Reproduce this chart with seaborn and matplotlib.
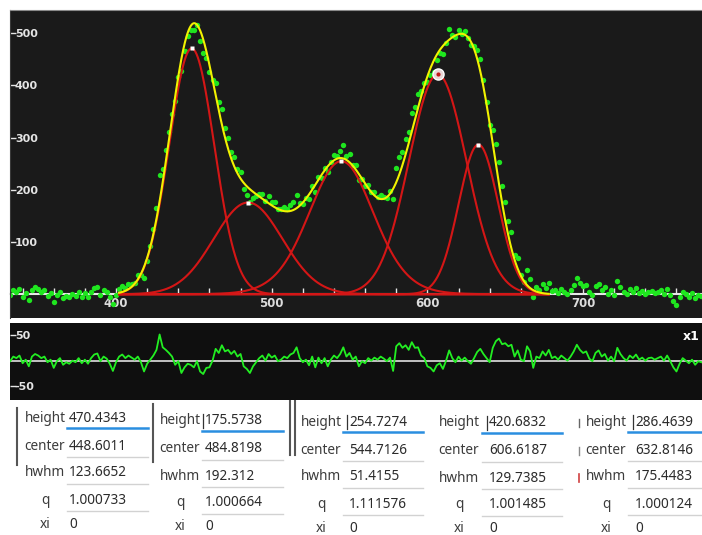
import numpy as np
import pandas as pd
import matplotlib
matplotlib.use("Agg")
import matplotlib.pyplot as plt
from matplotlib.ticker import MultipleLocator, FixedLocator
import seaborn as sns

# ---- fitted component parameters (shown in the parameter panel) ----
param_names = ["height", "center", "hwhm", "q", "xi"]
heights = [470.4343, 175.5738, 254.7274, 420.6832, 286.4639]
centers = [448.6011, 484.8198, 544.7126, 606.6187, 632.8146]
hwhm_vals = [123.6652, 192.312, 51.4155, 129.7385, 175.4483]
q_vals = [1.000733, 1.000664, 1.111576, 1.001485, 1.000124]
xi_vals = [0, 0, 0, 0, 0]
# drawn component widths (sigma, wavelength units)
widths = [14.5, 22.0, 20.5, 18.5, 12.7]

# ---- sampling grid and fit residuals ----
x_first, x_last, x_step = 332, 776, 2
residuals = [
    -1, 8, 5, 10, -5, 2, -11, 8, 13, 10,
    5, 8, -3, 2, -14, -1, 5, -8, -3, -6,
    0, -3, 5, -5, 2, -6, 5, 12, 14, -1,
    8, 4, -6, -20, -3, 8, 12, 5, 10, 6,
    2, 8, -3, -21, -6, 2, 10, 21, 51, 26,
    21, 15, 8, -8, -1, -24, -13, -6, -8, -13,
    -1, -21, -26, -14, -13, 0, 23, 15, 30, 18,
    21, 13, 19, 8, 13, -11, -16, -24, -11, -3,
    5, 10, 0, 13, 6, 10, -1, 2, 8, 5,
    12, 15, 26, 5, -3, 2, -9, 8, -13, 6,
    -5, 5, -11, 2, 10, 5, 13, 26, 8, 15,
    2, 8, -11, -1, -5, 5, 0, 6, 2, 8,
    4, -1, 6, -20, 28, 34, 25, 30, 21, 36,
    25, 26, 10, 5, -11, -14, -21, -9, -5, -16,
    0, 20, 5, -3, 8, 0, 6, -1, -6, 5,
    17, 23, 13, 5, -3, 25, 38, 43, 32, 34,
    28, 31, 8, 20, 2, -1, 28, 18, -14, 8,
    5, 18, 10, 21, 5, 8, 2, 10, 5, 0,
    8, 18, 31, 21, 15, 18, 4, -1, 15, 20,
    8, 13, 0, 8, -1, 25, 13, 5, 0, 10,
    5, 12, 2, 6, 0, 5, 6, 2, 5, 8,
    0, 10, -1, -13, -21, -6, 5, 0, -5, 2,
    -8, -1, -3,
]

# ---- axis tick values ----
main_yticks = [100, 200, 300, 400, 500]
main_xticks = [400, 500, 600, 700]
resid_yticks = [-50, 50]


def q_gauss(x, h, c, s, q):
    return h * (1.0 + (q - 1.0) * (x - c) ** 2 / (2.0 * s ** 2)) ** (-1.0 / (q - 1.0))


wl = np.arange(x_first, x_last + 1, x_step, dtype=float)
res = np.asarray(residuals, dtype=float)


def model(x):
    return sum(q_gauss(x, h, c, s, q) for h, c, s, q in zip(heights, centers, widths, q_vals))


intensity = model(wl) + res
data = pd.DataFrame({"wavelength": wl, "intensity": intensity, "residual": res})

xc = np.linspace(402, 678, 700)
comp_frames = []
for k, (h, c, s, q) in enumerate(zip(heights, centers, widths, q_vals)):
    comp_frames.append(pd.DataFrame({"wavelength": xc, "y": q_gauss(xc, h, c, s, q), "peak": k}))
comps = pd.concat(comp_frames, ignore_index=True)
fit = pd.DataFrame({"wavelength": xc, "y": model(xc)})

# ---- figure ----
W, H = 702, 535
fig = plt.figure(figsize=(W / 100, H / 100), dpi=100, facecolor="white")


def px_axes(x0, y0, x1, y1):
    return fig.add_axes([x0 / W, 1 - y1 / H, (x1 - x0) / W, (y1 - y0) / H])


BG = "#1a1a1a"
GREEN = "#1fe61f"
TICK_COLOR = "#e6e6e6"
tick_font = dict(family="DejaVu Sans", weight="bold", size=8)
xtick_font = dict(family="DejaVu Sans", weight="bold", size=8.5)

# main spectrum panel
ax = px_axes(10, 10, 702, 318)
ax.set_facecolor(BG)
sns.scatterplot(data=data, x="wavelength", y="intensity", color=GREEN, s=15,
                linewidth=0, ax=ax, zorder=2)
sns.lineplot(data=comps, x="wavelength", y="y", units="peak", estimator=None,
             color="#d41616", lw=1.5, ax=ax, zorder=3, sort=False)
sns.lineplot(data=fit, x="wavelength", y="y", color="#f2f200", lw=1.5, ax=ax,
             zorder=4, sort=False)

# peak markers (the selected component gets a ring)
for k, (h, c) in enumerate(zip(heights, centers)):
    if k == 3:
        ax.plot(c, h, "o", ms=8, mfc="#e8d6d6", mec="#ffffff", mew=1.0, zorder=6)
        ax.plot(c, h, "o", ms=3, mfc="#c01818", mec="none", zorder=7)
    else:
        ax.plot(c, h, "s", ms=3, mfc="white", mec="none", zorder=6)

ax.set_xlim(331.9, 776.4)
ax.set_ylim(-45.4, 544)
ax.set_xlabel("")
ax.set_ylabel("")
ax.spines["right"].set_visible(False)
ax.spines["top"].set_color("#8a8a8a")
ax.spines["top"].set_linewidth(0.8)
ax.spines["left"].set_color("#3a3a3a")
ax.spines["bottom"].set_position(("data", 0))
ax.spines["bottom"].set_color("#e8e8e8")
ax.spines["bottom"].set_linewidth(1.5)
ax.spines["bottom"].set_zorder(1)

ax.xaxis.set_major_locator(FixedLocator(main_xticks))
ax.xaxis.set_minor_locator(MultipleLocator(20))
ax.set_xticks(main_xticks)
ax.set_xticklabels([str(v) for v in main_xticks], **xtick_font)
ax.tick_params(axis="x", which="both", direction="in", length=4, width=1,
               color=TICK_COLOR, labelcolor="#dcdcdc", pad=2)
ax.set_yticks(main_yticks)
ax.set_yticklabels([str(v) for v in main_yticks], **tick_font)
ax.tick_params(axis="y", which="both", direction="in", length=4, width=1,
               color=TICK_COLOR, labelcolor="#e4e4e4", pad=-3.5)
for lab in ax.get_yticklabels():
    lab.set_horizontalalignment("left")

# residual panel
axr = px_axes(10, 323, 702, 400)
axr.set_facecolor("#0f0f0f")
axr.axhline(0, color="#e0e0e0", lw=1.2, zorder=1)
sns.lineplot(data=data, x="wavelength", y="residual", color="#22ee22", lw=1.3,
             estimator=None, ax=axr, zorder=2, sort=False)
axr.set_xlim(331.9, 776.4)
axr.set_ylim(-76.5, 73.3)
axr.set_xlabel("")
axr.set_ylabel("")
for side in ["top", "right", "bottom", "left"]:
    axr.spines[side].set_visible(False)
axr.set_xticks([])
axr.set_yticks(resid_yticks)
axr.set_yticklabels([str(v) for v in resid_yticks], **tick_font)
axr.tick_params(axis="y", direction="in", length=4, width=1, color=TICK_COLOR,
                labelcolor="#e4e4e4", pad=-3.5)
for lab in axr.get_yticklabels():
    lab.set_horizontalalignment("left")
fig.text(700 / W, 1 - 337 / H, "x1", color="white", fontsize=9, fontweight="bold",
         ha="right", va="center")

# parameter panel (pixel coordinates)
axt = fig.add_axes([0, 0, 1, 1], zorder=-1)
axt.set_xlim(0, W)
axt.set_ylim(H, 0)
axt.axis("off")
axt.patch.set_alpha(0)

row_y = [418, 446, 473, 500, 524]
label_cx = [45, 180, 321, 459, 606]
value_x = [69, 205, 349, 489, 635]
line_x = [(67, 148), (202, 283), (343, 423), (482, 562), (628, 702)]
col_dy = [0, 3, 4, 5, 4]
table_font = dict(family=["Noto Sans", "DejaVu Sans"], size=9.8)

columns = list(zip(heights, centers, hwhm_vals, q_vals, xi_vals))
for j, vals in enumerate(columns):
    dy = col_dy[j]
    for r, (name, v) in enumerate(zip(param_names, vals)):
        y = row_y[r] + dy
        axt.text(label_cx[j], y, name, ha="center", va="center", color="#3c3c3c",
                 **table_font)
        axt.text(value_x[j], y, str(v), ha="left", va="center", color="#2b2b2b",
                 **table_font)
        if r == 0:
            axt.plot(line_x[j], [y + 10, y + 10], color="#2a8ee0", lw=1.8)
        elif r < 4:
            axt.plot(line_x[j], [y + 11, y + 11], color="#d2d2d2", lw=1.0)
    if j > 0:
        # text cursor in the height field
        axt.plot([value_x[j] - 2.5, value_x[j] - 2.5], [row_y[0] + dy - 7, row_y[0] + dy + 7],
                 color="#333333", lw=0.9)

# column separators
axt.plot([17, 17], [408, 465], color="#555555", lw=1.5)
axt.plot([153, 153], [404, 462], color="#555555", lw=1.5)
axt.plot([290, 290], [400, 455], color="#555555", lw=1.5)
axt.plot([295, 295], [400, 455], color="#555555", lw=1.5)
# clipped field edges at the start of the last column
axt.plot([579, 579], [row_y[0] + 1, row_y[0] + 9], color="#666666", lw=1.0)
axt.plot([579, 579], [row_y[1] + 1, row_y[1] + 9], color="#888888", lw=1.0)
axt.plot([579, 579], [row_y[2] + 1, row_y[2] + 9], color="#d04040", lw=1.2)

fig.savefig("out.png", dpi=100, facecolor="white")
